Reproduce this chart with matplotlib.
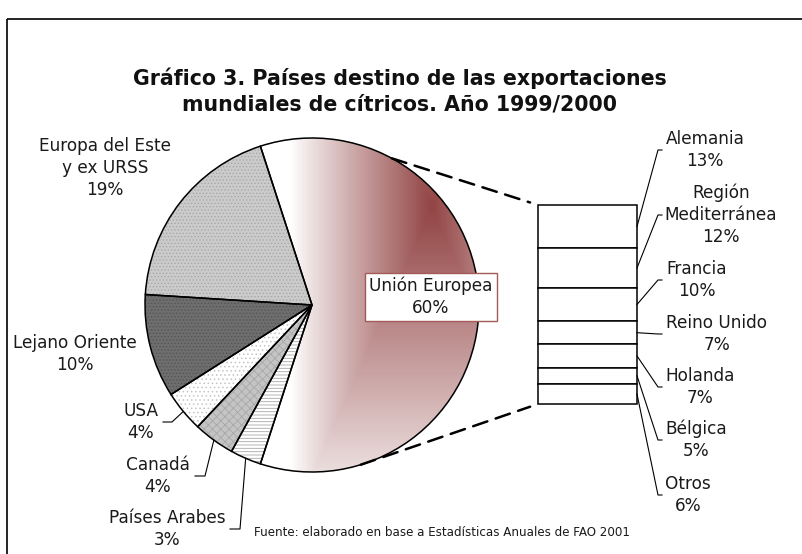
import numpy as np
import matplotlib.pyplot as plt
from matplotlib.patches import Rectangle, ConnectionPatch
from matplotlib.colors import LinearSegmentedColormap

# datos del grafico
regiones = ['Unión Europea', 'Europa del Este\ny ex URSS', 'Lejano Oriente',
            'USA', 'Canadá', 'Países Arabes']
pct_regiones = [60, 19, 10, 4, 4, 3]

paises_ue = ['Alemania', 'Región\nMediterránea', 'Francia', 'Reino Unido',
             'Holanda', 'Bélgica', 'Otros']
pct_ue = [13, 12, 10, 7, 7, 5, 6]

titulo = ('Gráfico 3. Países destino de las exportaciones\n'
          'mundiales de cítricos. Año 1999/2000')
fuente = 'Fuente: elaborado en base a Estadísticas Anuales de FAO 2001'

plt.rcParams['hatch.linewidth'] = 0.6

W, H = 803, 554
fig = plt.figure(figsize=(W / 100, H / 100), dpi=100)


def caja(x0, y0, x1, y1):
    # pixeles (origen arriba a la izquierda) -> fracciones de figura
    return [x0 / W, 1 - y1 / H, (x1 - x0) / W, (y1 - y0) / H]


cx, cy, r = 312, 305, 167
ax_pie = fig.add_axes(caja(cx - r, cy - r, cx + r, cy + r))
ax_bar = fig.add_axes(caja(538, 205, 637, 404))

# capa de textos por encima de todo
fondo = fig.add_axes([0, 0, 1, 1])
fondo.set_xlim(0, W)
fondo.set_ylim(H, 0)
fondo.axis('off')
fondo.set_zorder(10)

# --- torta ---
inicio = -3.6 * pct_regiones[0] / 2   # la UE queda centrada a la derecha
rellenos = ['white', '#cbcbcb', '#6e6e6e', 'white', '#c4c4c4', 'white']
tramas = ['', '.....', '.....', '....', 'xxxx', '-----']
color_trama = ['white', '#a8a8a8', '#555555', '#c4c4c4', '#a8a8a8', '#a8a8a8']

cunas, _ = ax_pie.pie(pct_regiones, startangle=inicio, counterclock=True,
                      colors=rellenos, wedgeprops=dict(linewidth=0))
for c, t, ct in zip(cunas, tramas, color_trama):
    c.set_hatch(t)
    c.set_edgecolor(ct)
    c.set_linewidth(0)

# degradado de la Union Europea
xx, yy = np.meshgrid(np.linspace(-1, 1, 500), np.linspace(1, -1, 500))
t = 1 - np.maximum(np.abs(xx - 0.72) / 0.85, np.abs(yy - 0.59) / 1.9)
t = np.clip(t, 0, 1) ** 0.95
cmap = LinearSegmentedColormap.from_list('ue', ['#ffffff', '#934545'])
im = ax_pie.imshow(t, extent=(-1, 1, -1, 1), cmap=cmap, vmin=0, vmax=1,
                   zorder=2, interpolation='bilinear')
im.set_clip_path(cunas[0])

ax_pie.pie(pct_regiones, startangle=inicio, counterclock=True,
           wedgeprops=dict(fill=False, edgecolor='black', linewidth=1.1,
                           zorder=3))
ax_pie.set_xlim(-1, 1)
ax_pie.set_ylim(-1, 1)
ax_pie.set_aspect('auto')
ax_pie.axis('off')

# --- barra ---
base = np.concatenate([[0], np.cumsum(pct_ue)[:-1]])
barras = ax_bar.bar([0] * len(pct_ue), pct_ue, bottom=base, width=1,
                    color='white', edgecolor='black', linewidth=1.1)
for b in barras:
    b.set_clip_on(False)
ax_bar.set_xlim(-0.5, 0.5)
ax_bar.set_ylim(sum(pct_ue), 0)
ax_bar.axis('off')

# lineas de union torta-barra
for ang, yb in [(61.4, 0), (-73, sum(pct_ue))]:
    a = np.deg2rad(ang)
    con = ConnectionPatch(xyA=(np.cos(a), np.sin(a)), coordsA=ax_pie.transData,
                          xyB=(-0.5, yb), coordsB=ax_bar.transData,
                          linestyle=(0, (6, 3.5)), linewidth=1.8,
                          color='black', shrinkB=6)
    fig.add_artist(con)


def a_pix(ax, x, y):
    d = ax.transData.transform((x, y))
    return fondo.transData.inverted().transform(d)


txt = dict(fontsize=12.2, color='#1a1a1a', ha='center', va='center',
           linespacing=1.27)

# etiquetas de la barra
pos_ue = [(705, 150), (721, 215), (697, 280), (717, 334), (700, 387),
          (696, 440), (688, 495)]
for nombre, v, b0, (tx, ty) in zip(paises_ue, pct_ue, base, pos_ue):
    fondo.text(tx, ty, f'{nombre}\n{v}%', **txt)
    px, py = a_pix(ax_bar, 0.5, b0 + v / 2)
    fondo.plot([px, 658, 662], [py, ty, ty], color='black', lw=0.8)

# etiquetas de la torta
fondo.text(431, 297, f'{regiones[0]}\n{pct_regiones[0]}%',
           bbox=dict(boxstyle='square,pad=0.25', fc='white', ec='#a55a5a',
                     lw=1), **txt)

pos_reg = [None, (105, 168), (75, 354), (141, 422), (158, 476), (167, 529)]
codos = [None, None, None, (172, 163), (205, 195), (240, 230)]
acum = np.cumsum([0] + pct_regiones)
for i in range(1, len(regiones)):
    tx, ty = pos_reg[i]
    fondo.text(tx, ty, f'{regiones[i]}\n{pct_regiones[i]}%', **txt)
    if codos[i] is not None:
        medio = np.deg2rad(inicio + 3.6 * (acum[i] + acum[i + 1]) / 2)
        px, py = a_pix(ax_pie, np.cos(medio), np.sin(medio))
        fondo.plot([px, codos[i][0], codos[i][1]], [py, ty, ty],
                   color='black', lw=0.8)

fondo.text(400, 91, titulo, ha='center', va='center', fontsize=14.8,
           fontweight='bold', color='#111111', linespacing=1.3)
fondo.text(442, 533, fuente, ha='center', va='center', fontsize=8.6,
           color='#1a1a1a')

fondo.add_patch(Rectangle((7, 19), 900, 600, fill=False, lw=1.2,
                          edgecolor='black'))

fig.savefig('out.png', dpi=100)
